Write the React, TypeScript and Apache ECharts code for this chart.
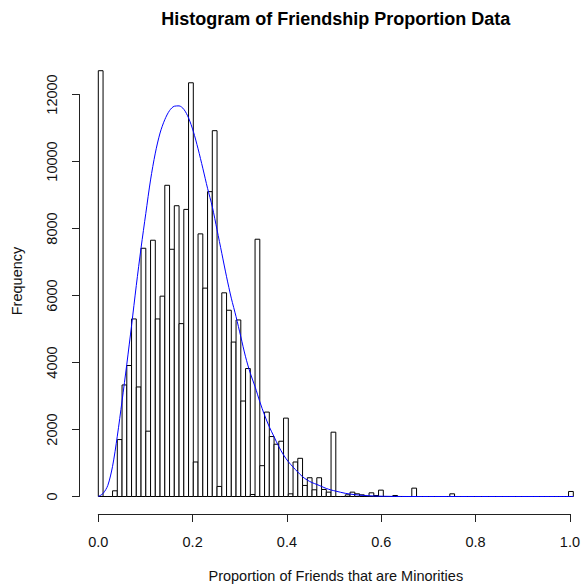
import React, { useEffect, useRef } from "react";
import * as echarts from "echarts";

// Histogram counts for bins of width 0.01 from 0.00 to 1.00
const counts: number[] = [
  12710, 0, 0, 170, 1700, 3330, 3910, 5300, 3270, 7410,
  1950, 7650, 5300, 5980, 9290, 7380, 8680, 5160, 8570, 12350,
  1030, 7840, 6220, 9100, 10920, 300, 6080, 5560, 4610, 5270,
  2850, 3820, 60, 7680, 920, 2520, 1790, 1560, 1650, 2340,
  80, 1030, 1140, 330, 560, 200, 560, 210, 130, 1920,
  0, 0, 50, 130, 80, 50, 0, 110, 30, 190,
  0, 0, 30, 0, 0, 0, 250, 0, 0, 0,
  0, 0, 0, 0, 80, 0, 0, 0, 0, 0,
  0, 0, 0, 0, 0, 0, 0, 0, 0, 0,
  0, 0, 0, 0, 0, 0, 0, 0, 0, 150,
];
const binWidth = 0.01;

// Density curve (scaled to frequency)
const densityX: number[] = [
  0, 0.01, 0.02, 0.03, 0.04, 0.05, 0.06, 0.07, 0.08, 0.09,
  0.1, 0.11, 0.12, 0.13, 0.14, 0.15, 0.16, 0.17, 0.18, 0.19,
  0.2, 0.21, 0.22, 0.23, 0.24, 0.25, 0.26, 0.27, 0.28, 0.29,
  0.3, 0.31, 0.32, 0.33, 0.34, 0.35, 0.36, 0.37, 0.38, 0.39,
  0.4, 0.41, 0.42, 0.43, 0.44, 0.45, 0.46, 0.47, 0.48, 0.49,
  0.5, 0.52, 0.54, 0.56, 0.58, 0.6, 0.65, 1.0,
];
const densityY: number[] = [
  0, 90, 330, 900, 1800, 2850, 3950, 5100, 6300, 7420,
  8450, 9450, 10250, 10850, 11250, 11520, 11650, 11660, 11560, 11300,
  10900, 10380, 9800, 9200, 8650, 7960, 7260, 6560, 5920, 5370,
  4770, 4170, 3680, 3280, 2830, 2430, 2080, 1785, 1490, 1240,
  1040, 880, 730, 590, 490, 415, 360, 300, 240, 195,
  160, 95, 55, 30, 15, 7, 0, 0,
];

const xTicks: number[] = [0, 0.2, 0.4, 0.6, 0.8, 1.0];
const yTicks: number[] = [0, 2000, 4000, 6000, 8000, 10000, 12000];

const FONT = "'Liberation Sans', Arial, sans-serif";

export default function App() {
  const ref = useRef<HTMLDivElement>(null);
  useEffect(() => {
    if (!ref.current) return;
    const chart = echarts.init(ref.current, undefined, { renderer: "svg" });
    const left = 98.3;
    const right = 583 - 573.3;
    const bottom = 585 - 496.5;
    const pxPerUnit = 67 / 2000;
    const yMaxData = 13500;
    const dataTop = 496.5 - yMaxData * pxPerUnit;
    const yTop = yTicks[yTicks.length - 1];
    const axisTop = 496.5 - yTop * pxPerUnit;

    const histData = counts.map((c, i) => [
      +(i * binWidth).toFixed(2),
      +((i + 1) * binWidth).toFixed(2),
      c,
    ]);

    chart.setOption({
      animation: false,
      backgroundColor: "#fff",
      textStyle: { fontFamily: FONT },
      grid: [
        { left, right, top: dataTop, bottom, containLabel: false },
        { left, right, top: axisTop, bottom, containLabel: false },
      ],
      xAxis: [
        {
          type: "value",
          gridIndex: 0,
          min: 0,
          max: 1,
          show: false,
        },
        {
          type: "value",
          gridIndex: 1,
          min: xTicks[0],
          max: xTicks[xTicks.length - 1],
          interval: 0.2,
          offset: 17.5,
          axisLine: { show: true, onZero: false, lineStyle: { color: "#222", width: 1 } },
          axisTick: { show: true, length: 8, lineStyle: { color: "#222" } },
          splitLine: { show: false },
          axisLabel: {
            margin: 20,
            color: "#111",
            fontSize: 14.5,
            fontFamily: FONT,
            formatter: (v: number) => v.toFixed(1),
          },
        },
      ],
      yAxis: [
        {
          type: "value",
          gridIndex: 0,
          min: 0,
          max: yMaxData,
          show: false,
        },
        {
          type: "value",
          gridIndex: 1,
          min: yTicks[0],
          max: yTop,
          interval: 2000,
          offset: 19.3,
          axisLine: { show: true, onZero: false, lineStyle: { color: "#222", width: 1 } },
          axisTick: { show: true, length: 7, lineStyle: { color: "#222" } },
          splitLine: { show: false },
          axisLabel: {
            rotate: 90,
            margin: 19.5,
            color: "#111",
            fontSize: 14.5,
            fontFamily: FONT,
            formatter: (v: number) => String(v),
          },
        },
      ],
      series: [
        {
          type: "custom",
          xAxisIndex: 0,
          yAxisIndex: 0,
          data: histData,
          encode: { x: [0, 1], y: 2 },
          silent: true,
          z: 2,
          renderItem: (_params: any, api: any) => {
            const x0 = api.value(0);
            const x1 = api.value(1);
            const c = api.value(2);
            const p0 = api.coord([x0, 0]);
            const p1 = api.coord([x1, c]);
            return {
              type: "rect",
              shape: {
                x: p0[0],
                y: p1[1],
                width: p1[0] - p0[0],
                height: p0[1] - p1[1],
              },
              style: { fill: "#fff", stroke: "#000", lineWidth: 1 },
            };
          },
        },
        {
          type: "line",
          xAxisIndex: 0,
          yAxisIndex: 0,
          data: densityX.map((x, i) => [x, densityY[i]]),
          showSymbol: false,
          smooth: 0.3,
          silent: true,
          lineStyle: { color: "#0000ff", width: 1 },
          z: 3,
        },
        {
          type: "scatter",
          xAxisIndex: 1,
          yAxisIndex: 1,
          data: [],
          silent: true,
        },
      ],
      graphic: [
        {
          type: "text",
          x: 335.8,
          y: 18.8,
          style: {
            text: "Histogram of Friendship Proportion Data",
            align: "center",
            verticalAlign: "middle",
            font: `bold 18px ${FONT}`,
            fill: "#000",
          },
        },
        {
          type: "text",
          x: 335.8,
          y: 575.5,
          style: {
            text: "Proportion of Friends that are Minorities",
            align: "center",
            verticalAlign: "middle",
            font: `14.5px ${FONT}`,
            fill: "#111",
          },
        },
        {
          type: "text",
          x: 17,
          y: 281,
          rotation: Math.PI / 2,
          style: {
            text: "Frequency",
            align: "center",
            verticalAlign: "middle",
            font: `14.5px ${FONT}`,
            fill: "#111",
          },
        },
      ],
    });
    return () => chart.dispose();
  }, []);
  return (
    <div
      ref={ref}
      style={{ position: "fixed", left: 0, top: 0, width: 583, height: 585 }}
    />
  );
}
